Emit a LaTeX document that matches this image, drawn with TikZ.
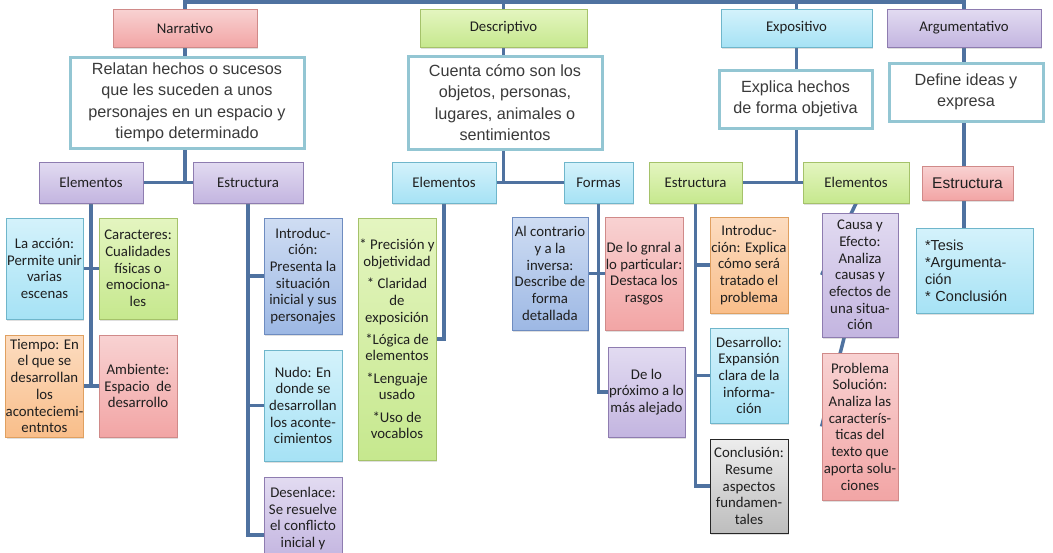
\documentclass[tikz,border=0pt]{standalone}
\usepackage{fontspec}
\setmainfont{Carlito}
\newfontfamily\arialfont{Liberation Sans}
\usetikzlibrary{shadows,backgrounds}
\definecolor{link}{HTML}{4F72A0}
\definecolor{rosatop}{HTML}{F8D2D2}
\definecolor{rosabot}{HTML}{F2A5A5}
\definecolor{rosaline}{HTML}{D08A89}
\definecolor{verdetop}{HTML}{E4F5C0}
\definecolor{verdebot}{HTML}{C6E88E}
\definecolor{verdeline}{HTML}{A5C26A}
\definecolor{celestetop}{HTML}{D4F2FB}
\definecolor{celestebot}{HTML}{A6E2F5}
\definecolor{celesteline}{HTML}{6FB6CB}
\definecolor{lilatop}{HTML}{E2DBF1}
\definecolor{lilabot}{HTML}{C3B5E0}
\definecolor{lilaline}{HTML}{8E7CB0}
\definecolor{azultop}{HTML}{CFDDF3}
\definecolor{azulbot}{HTML}{9DB8E4}
\definecolor{azulline}{HTML}{6E8CC0}
\definecolor{naranjatop}{HTML}{FCDCC0}
\definecolor{naranjabot}{HTML}{F9BE8A}
\definecolor{naranjaline}{HTML}{E0A060}
\definecolor{gristop}{HTML}{EDEDED}
\definecolor{grisbot}{HTML}{BDBDBD}
\definecolor{defline}{HTML}{93C6D3}
\definecolor{deftext}{HTML}{3A3A3A}

\begin{document}
\begin{tikzpicture}[
  x=1pt,y=-1pt,
  font=\fontsize{14.8}{16.7}\selectfont,
  sz/.style 2 args={minimum width=#1pt,minimum height=#2pt},
  box/.style={line width=0.8pt,align=center,inner sep=0pt,text=black!88,
    drop shadow={shadow xshift=1pt,shadow yshift=-1.5pt,opacity=.25}},
  rosa/.style={box,draw=rosaline,top color=rosatop,bottom color=rosabot},
  verde/.style={box,draw=verdeline,top color=verdetop,bottom color=verdebot},
  celeste/.style={box,draw=celesteline,top color=celestetop,bottom color=celestebot},
  lila/.style={box,draw=lilaline,top color=lilatop,bottom color=lilabot},
  azul/.style={box,draw=azulline,top color=azultop,bottom color=azulbot},
  naranja/.style={box,draw=naranjaline,top color=naranjatop,bottom color=naranjabot},
  gris/.style={box,draw=black!85,top color=gristop,bottom color=grisbot},
  defbox/.style={draw=defline,line width=3pt,fill=white,align=center,inner sep=2pt,
    font=\arialfont\fontsize{16.2}{21.5}\selectfont,text=deftext},
  link/.style={draw=link,line width=3.5pt},
]
\useasboundingbox (0,0) rectangle (1053,552);

% tipos de texto
\node[rosa,sz={144}{38}] (narr) at (185,28) {Narrativo};
\node[verde,sz={167}{38}] (desc) at (503.5,28) {Descriptivo};
\node[celeste,sz={151}{38}] (expo) at (796.5,28) {Expositivo};
\node[lila,sz={154}{38}] (argu) at (964,28) {Argumentativo};

\node[defbox,sz={234}{91}] (narrdef) at (187,102.5) {Relatan hechos o sucesos\\que les suceden a unos\\personajes en un espacio y\\tiempo determinado};
\node[defbox,sz={194}{93}] (descdef) at (505,102.5) {Cuenta cómo son los\\objetos, personas,\\lugares, animales o\\sentimientos};
\node[defbox,sz={153}{58}] (expodef) at (795.5,99) {Explica hechos\\de forma objetiva};
\node[defbox,sz={154}{58}] (argudef) at (966,92) {Define ideas y\\expresa};

% segundo nivel
\node[lila,sz={104}{41}] (narrel) at (91,182.5) {Elementos};
\node[lila,sz={110}{41}] (narrest) at (248,182.5) {Estructura};
\node[celeste,sz={104}{41}] (descel) at (444,182.5) {Elementos};
\node[celeste,sz={69}{41}] (descfor) at (598.5,182.5) {Formas};
\node[verde,sz={93}{41}] (expoest) at (695.5,182.5) {Estructura};
\node[verde,sz={106}{41}] (expoel) at (856,182.5) {Elementos};
\node[rosa,sz={91}{34},font=\arialfont\fontsize{15.5}{18}\selectfont] (arguest) at (967.5,183) {Estructura};

% narrativo
\node[celeste,sz={77}{101}] (accion) at (44.5,268.5) {La acción:\\Permite unir\\varias\\escenas};
\node[verde,sz={78}{101}] (caract) at (138,268.5) {Caracteres:\\Cualidades\\físicas o\\emociona-\\les};
\node[naranja,sz={77}{102}] (tiempo) at (44.5,386) {Tiempo: En\\el que se\\desarrollan\\los\\aconteciemi-\\entntos};
\node[rosa,sz={78}{102}] (ambiente) at (138,386) {Ambiente:\\Espacio~ de\\desarrollo};
\node[azul,sz={78}{116}] (intron) at (303,276) {Introduc-\\ción:\\Presenta la\\situación\\inicial y sus\\personajes};
\node[celeste,sz={78}{111}] (nudo) at (303,405.5) {Nudo: En\\donde se\\desarrollan\\los aconte-\\cimientos};
\node[lila,sz={78}{83}] (desenl) at (303,518.5) {Desenlace:\\Se resuelve\\el conflicto\\inicial y};

% descriptivo
\node[verde,sz={78}{242}] (precis) at (397,339) {* Precisión y\\objetividad\\[5.5pt]* Claridad\\de\\exposición\\[5.5pt]*Lógica de\\elementos\\[5.5pt]*Lenguaje\\usado\\[5.5pt]*Uso de\\vocablos};
\node[azul,sz={76}{113}] (alcontr) at (550,273.5) {Al contrario\\y a la\\inversa:\\Describe de\\forma\\detallada};
\node[rosa,sz={78}{113}] (gnral) at (644,273.5) {De lo gnral a\\lo particular:\\Destaca los\\rasgos};
\node[lila,sz={77}{90}] (proximo) at (646.5,392) {De lo\\próximo a lo\\más alejado};

% expositivo
\node[naranja,sz={78}{96}] (introe) at (749,265) {Introduc-\\ción: Explica\\cómo será\\tratado el\\problema};
\node[celeste,sz={78}{95}] (desarr) at (749,375.5) {Desarrollo:\\Expansión\\clara de la\\informa-\\ción};
\node[gris,sz={78}{94}] (concl) at (749,486) {Conclusión:\\Resume\\aspectos\\fundamen-\\tales};
\node[lila,sz={76}{124}] (causa) at (860,275) {Causa y\\Efecto:\\Analiza\\causas y\\efectos de\\una situa-\\ción};
\node[rosa,sz={76}{147}] (problema) at (860,426.5) {Problema\\Solución:\\Analiza las\\caracterís-\\ticas del\\texto que\\aporta solu-\\ciones};

% argumentativo
\node[celeste,sz={117}{85},align=left,text width=99pt,font=\arialfont\fontsize{14.5}{17}\selectfont] (tesis) at (974.5,270.5) {*Tesis\\{}*Argumenta-\\ción\\{}* Conclusión};

\begin{scope}[on background layer]
\fill[white] (0,0) rectangle (1053,552);
\coordinate (topline) at (185,2);
\draw[link] (narr.center) -- (narr.center |- topline) -| (argu.center);
\draw[link] (desc.center) -- (desc.center |- topline);
\draw[link] (expo.center) -- (expo.center |- topline);
\draw[link] (narr.center) -- (narr.center |- narrel.east);
\draw[link] (narrel.east) -- (narrest.west);
\draw[link] (desc.center) -- (desc.center |- descel.east);
\draw[link] (descel.east) -- (descfor.west);
\draw[link] (expo.center) -- (expo.center |- expoest.east);
\draw[link] (expoest.east) -- (expoel.west);
\draw[link] (argu.center) -- (argu.center |- tesis.center);
% ramas
\draw[link] (narrel.center) -- (narrel.center |- tiempo.east);
\draw[link] (accion.east) -- (caract.west);
\draw[link] (tiempo.east) -- (ambiente.west);
\coordinate (desenlink) at ([yshift=-16.5pt]desenl.west);
\draw[link] (narrest.center) |- (desenlink);
\draw[link] (narrest.center |- intron.west) -- (intron.west);
\draw[link] (narrest.center |- nudo.west) -- (nudo.west);
\draw[link] (descel.center) |- (precis.east);
\draw[link] (descfor.center) |- (proximo.west);
\draw[link] (alcontr.east) -- (gnral.west);
\draw[link] (expoest.center) |- (concl.west);
\draw[link] (expoest.center |- introe.west) -- (introe.west);
\draw[link] (expoest.center |- desarr.west) -- (desarr.west);
\draw[link] (expoel.south) -- (causa.west);
\draw[link] (causa.center) -- (problema.west);
\end{scope}
\end{tikzpicture}
\end{document}
